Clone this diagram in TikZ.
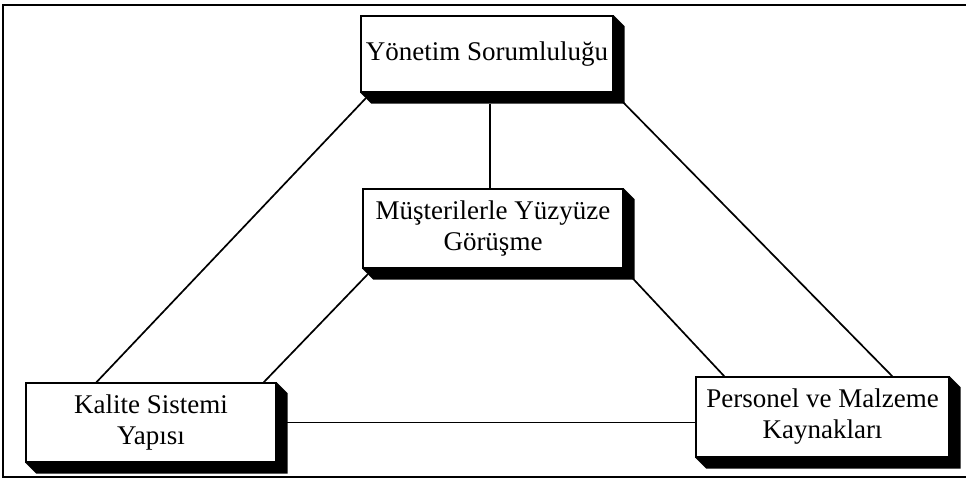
\documentclass[tikz,border=0pt]{standalone}
\usepackage{fontspec}
\setmainfont{Liberation Serif}
\usetikzlibrary{calc}

\tikzset{
  box/.style={draw=black, line width=1.3pt, fill=white, rectangle, align=center,
    inner sep=0pt, font=\fontsize{27}{31}\selectfont},
  link/.style={draw=black, line width=1.7pt},
  frame/.style={draw=black, line width=2.2pt}
}

% black extrusion along the right and bottom sides of a box
\newcommand{\boxshade}[1]{%
  \fill[black] (#1.north east) -- ++(11,11) -- ($(#1.south east)+(11,11)$)
    -- ($(#1.south west)+(11,11)$) -- (#1.south west) -- cycle;}

\begin{document}
\begin{tikzpicture}[x=1pt, y=-1pt]
\useasboundingbox (0,0) rectangle (966,479);

% outer frame (open on the right)
\draw[frame] (966,5) -- (3,5) -- (3,477) -- (966,477);

% boxes
\node[box, minimum width=252pt, minimum height=76pt] (top) at (487,54) {Yönetim Sorumluluğu};
\node[box, minimum width=260pt, minimum height=79pt] (mid) at (493,228.5) {Müşterilerle Yüzyüze\\Görüşme};
\node[box, minimum width=250pt, minimum height=79pt] (kal) at (151,422.5) {Kalite Sistemi\\Yapısı};
\node[box, minimum width=253pt, minimum height=80pt] (per) at (822.5,417) {Personel ve Malzeme\\Kaynakları};

% connectors
\draw[link] ($(top.south west)+(5.5,5.5)$) -- ($(kal.north west)+(71,0)$);
\draw[link] (top.south east) -- ($(per.north west)+(197,0)$);
\draw[link] ($(top.south)+(3,11)$) -- ($(mid.north)+(-3,0)$);
\draw[link] ($(mid.south west)+(5.5,5.5)$) -- ($(kal.north east)+(-13,0)$);
\draw[link] (mid.south east) -- ($(per.north west)+(29,0)$);
\draw[link] (kal.east) -- (kal.east -| per.west);

% shading drawn over the connector ends
\boxshade{top}
\boxshade{mid}
\boxshade{kal}
\boxshade{per}

% redraw the faces so their borders sit on top
\node[box, minimum width=252pt, minimum height=76pt] at (top) {Yönetim Sorumluluğu};
\node[box, minimum width=260pt, minimum height=79pt] at (mid) {Müşterilerle Yüzyüze\\Görüşme};
\node[box, minimum width=250pt, minimum height=79pt] at (kal) {Kalite Sistemi\\Yapısı};
\node[box, minimum width=253pt, minimum height=80pt] at (per) {Personel ve Malzeme\\Kaynakları};
\end{tikzpicture}
\end{document}
